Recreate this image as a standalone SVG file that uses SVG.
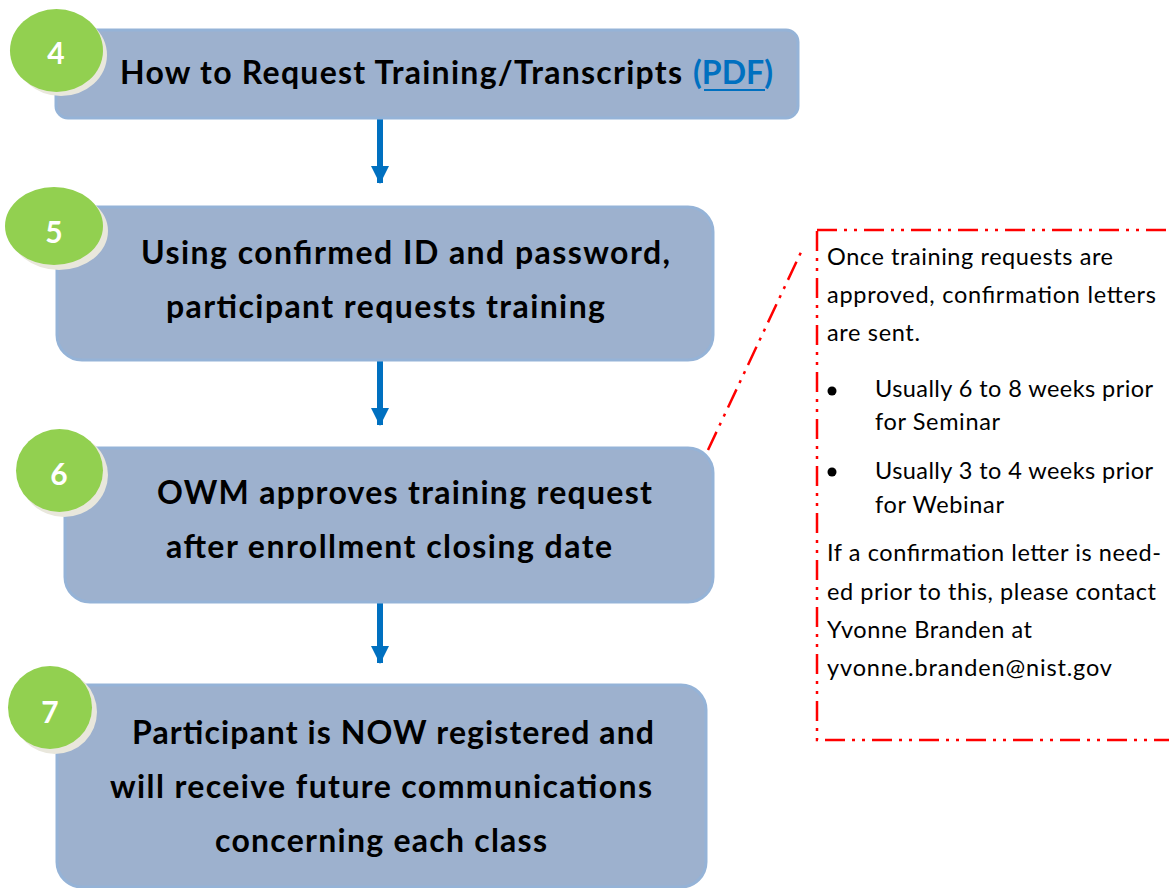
<svg xmlns="http://www.w3.org/2000/svg" width="1169" height="888" viewBox="0 0 1169 888">
<defs>
<style>
.box{fill:#9DB1CE;stroke:#95B3D7;stroke-width:3}
.badge{fill:#92D050}
.shadow{fill:#E9E7DC}
.num{font-family:Lato,"Open Sans",sans-serif;font-weight:bold;font-size:30px;fill:#FFFFFF;text-anchor:middle}
.t{font-family:Lato,"Open Sans",sans-serif;font-weight:bold;font-size:32px;fill:#000000}
.link{fill:#0070C0}
.arrow{stroke:#0070C0;stroke-width:6;fill:none}
.red{stroke:#FF0000;stroke-width:2.5;fill:none;stroke-dasharray:20 7 3 7 3 7}
.n{font-family:Lato,"Open Sans",sans-serif;font-size:23.5px;fill:#000000}
</style>
<marker id="ah" markerUnits="userSpaceOnUse" markerWidth="18" markerHeight="18" viewBox="0 0 18 18" refX="17" refY="9" orient="auto">
<path d="M0,0 L18,9 L0,18 Z" fill="#0070C0"/>
</marker>
</defs>
<rect width="1169" height="888" fill="#FFFFFF"/>

<g id="connectors">
<line class="arrow" x1="380" y1="119" x2="380" y2="183" marker-end="url(#ah)"/>
<line class="arrow" x1="380" y1="361" x2="380" y2="425" marker-end="url(#ah)"/>
<line class="arrow" x1="380" y1="602" x2="380" y2="663" marker-end="url(#ah)"/>
<line class="red" x1="708" y1="450" x2="802" y2="250"/>
</g>

<g id="step4">
<rect class="box" x="56" y="30" width="742" height="88" rx="12"/>
<ellipse class="shadow" cx="61" cy="55" rx="46" ry="41"/>
<ellipse class="badge" cx="56.5" cy="50.5" rx="46.5" ry="41.5"/>
<text class="num" x="56" y="64">4</text>
<text class="t" x="120" y="84" textLength="562">How to Request Training/Transcripts</text>
<text class="t link" x="693" y="84" textLength="80">(PDF)</text>
<line x1="704" y1="90" x2="765" y2="90" stroke="#0070C0" stroke-width="2"/>
</g>

<g id="step5">
<rect class="box" x="57" y="207" width="656" height="153" rx="25"/>
<ellipse class="shadow" cx="59" cy="231" rx="49" ry="39"/>
<ellipse class="badge" cx="54" cy="226" rx="49" ry="39"/>
<text class="num" x="54" y="243">5</text>
<text class="t" x="141" y="264" textLength="529">Using confirmed ID and password,</text>
<text class="t" x="166" y="318" textLength="439">participant requests training</text>
</g>

<g id="step6">
<rect class="box" x="65" y="448" width="648" height="154" rx="25"/>
<ellipse class="shadow" cx="64" cy="475" rx="44" ry="42"/>
<ellipse class="badge" cx="59.5" cy="470.5" rx="43.5" ry="41.5"/>
<text class="num" x="59" y="485">6</text>
<text class="t" x="157" y="504" textLength="495">OWM approves training request</text>
<text class="t" x="166" y="558" textLength="446">after enrollment closing date</text>
</g>

<g id="step7">
<rect class="box" x="57" y="685" width="649" height="202" rx="25"/>
<ellipse class="shadow" cx="55" cy="712" rx="42" ry="42"/>
<ellipse class="badge" cx="50" cy="707.5" rx="42" ry="41.5"/>
<text class="num" x="50" y="723">7</text>
<text class="t" x="132" y="744" textLength="522">Participant is NOW registered and</text>
<text class="t" x="110" y="798" textLength="542">will receive future communications</text>
<text class="t" x="215" y="852" textLength="332">concerning each class</text>
</g>

<g id="note">
<rect class="red" x="817" y="230" width="370" height="510"/>
<text class="n" x="827" y="265" textLength="286">Once training requests are</text>
<text class="n" x="827" y="303" textLength="329">approved, confirmation letters</text>
<text class="n" x="827" y="341" textLength="93">are sent.</text>
<circle cx="832" cy="391" r="4.5" fill="#000"/>
<text class="n" x="875" y="397" textLength="278">Usually 6 to 8 weeks prior</text>
<text class="n" x="875" y="430" textLength="125">for Seminar</text>
<circle cx="832" cy="472" r="4.5" fill="#000"/>
<text class="n" x="875" y="479" textLength="278">Usually 3 to 4 weeks prior</text>
<text class="n" x="875" y="513" textLength="129">for Webinar</text>
<text class="n" x="827" y="561" textLength="334">If a confirmation letter is need-</text>
<text class="n" x="827" y="600" textLength="329">ed prior to this, please contact</text>
<text class="n" x="827" y="638" textLength="205">Yvonne Branden at</text>
<text class="n" x="827" y="676" textLength="285">yvonne.branden@nist.gov</text>
</g>
</svg>
